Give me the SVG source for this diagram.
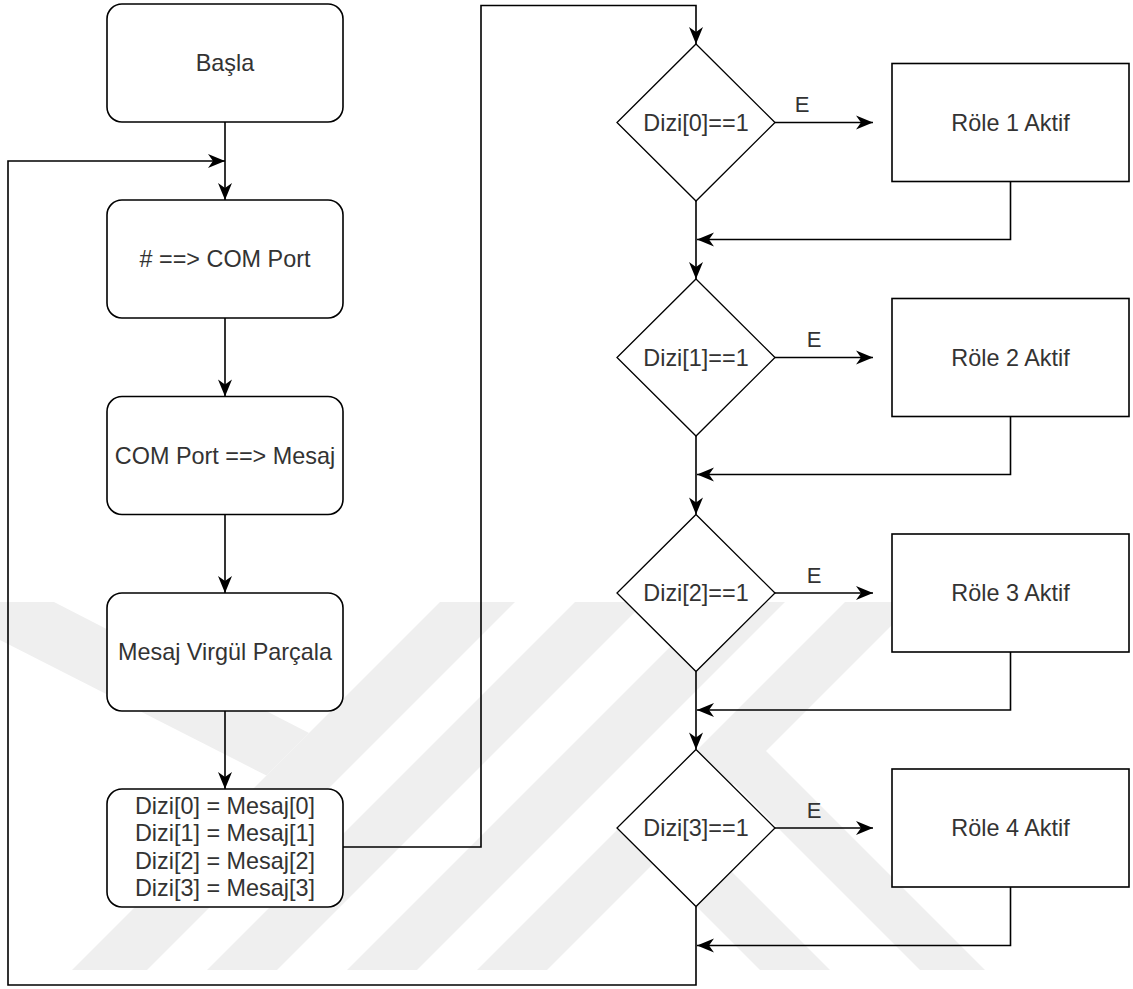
<svg xmlns="http://www.w3.org/2000/svg" width="1133" height="989" viewBox="0 0 1133 989">
<style>
.n{fill:#fff;stroke:#000;stroke-width:1.6}
.d{fill:#fff;stroke:#000;stroke-width:1.3}
.c{fill:none;stroke:#000;stroke-width:1.6}
.t{font-family:"Liberation Sans",Arial,Helvetica,sans-serif;font-size:23.4px;fill:#333;text-anchor:middle}
.e{font-family:"Liberation Sans",Arial,Helvetica,sans-serif;font-size:22px;fill:#333;text-anchor:middle}
.wm{fill:#efefef}
</style>
<defs>
<marker id="arr" markerUnits="userSpaceOnUse" markerWidth="20" markerHeight="16" viewBox="-18 -8 20 16" refX="0" refY="0" orient="auto">
<path d="M0,0 L-17,-7 L-12,0 L-17,7 Z" fill="#000"/>
</marker>
<clipPath id="wmclip"><rect x="0" y="602" width="1133" height="368"/></clipPath>
</defs>
<rect width="1133" height="989" fill="#fff"/>
<g id="watermark" clip-path="url(#wmclip)">
<polygon class="wm" points="0,602 54,602 309,733 266.5,775.5 0,640"/>
<polygon class="wm" points="440,602 515,602 147,970 72,970"/>
<polygon class="wm" points="575,602 645,602 277,970 207,970"/>
<polygon class="wm" points="715,602 785,602 417,970 347,970"/>
<polygon class="wm" points="845,602 915,602 547,970 477,970"/>
<polygon class="wm" points="700,750 765,750 985,970 920,970"/>
<polygon class="wm" points="640,850 710,850 830,970 760,970"/>
</g>
<g id="connectors">
<path class="c" d="M225,122 V200" marker-end="url(#arr)"/>
<path class="c" d="M225,318 V396.5" marker-end="url(#arr)"/>
<path class="c" d="M225,514.5 V593" marker-end="url(#arr)"/>
<path class="c" d="M225,711 V789" marker-end="url(#arr)"/>
<path class="c" d="M343,847 H481 V5.5 H696 V44" marker-end="url(#arr)"/>
<path class="c" d="M696,201 V279" marker-end="url(#arr)"/>
<path class="c" d="M696,436 V514.5" marker-end="url(#arr)"/>
<path class="c" d="M696,671.5 V749.5" marker-end="url(#arr)"/>
<path class="c" d="M696,906.5 V985 H8 V161 H225" marker-end="url(#arr)"/>
<path class="c" d="M775,122.5 H873" marker-end="url(#arr)"/>
<path class="c" d="M775,357.5 H873" marker-end="url(#arr)"/>
<path class="c" d="M775,593 H873" marker-end="url(#arr)"/>
<path class="c" d="M775,828 H873" marker-end="url(#arr)"/>
<path class="c" d="M1010.5,181.5 V239.5 H697" marker-end="url(#arr)"/>
<path class="c" d="M1010.5,416.5 V474.5 H697" marker-end="url(#arr)"/>
<path class="c" d="M1010.5,652 V710 H697" marker-end="url(#arr)"/>
<path class="c" d="M1010.5,887 V945.5 H697" marker-end="url(#arr)"/>
<text class="e" x="802" y="112">E</text>
<text class="e" x="814" y="347">E</text>
<text class="e" x="814" y="582.5">E</text>
<text class="e" x="814" y="817.5">E</text>
</g>
<g id="basla"><rect class="n" x="107" y="4" width="236" height="118" rx="15"/><text class="t" x="225" y="71.4">Başla</text></g>
<g id="com-port"><rect class="n" x="107" y="200" width="236" height="118" rx="15"/><text class="t" x="225" y="267.4"># ==&gt; COM Port</text></g>
<g id="mesaj"><rect class="n" x="107" y="396.5" width="236" height="118" rx="15"/><text class="t" x="225" y="463.9">COM Port ==&gt; Mesaj</text></g>
<g id="parcala"><rect class="n" x="107" y="593" width="236" height="118" rx="15"/><text class="t" x="225" y="660.4">Mesaj Virgül Parçala</text></g>
<g id="dizi"><rect class="n" x="107" y="789" width="236" height="118" rx="15"/>
<text class="t" x="225" y="813.5">Dizi[0] = Mesaj[0]</text>
<text class="t" x="225" y="841">Dizi[1] = Mesaj[1]</text>
<text class="t" x="225" y="868.5">Dizi[2] = Mesaj[2]</text>
<text class="t" x="225" y="896">Dizi[3] = Mesaj[3]</text></g>
<g id="d0"><polygon class="d" points="696,44 775,122.5 696,201 617,122.5"/><text class="t" x="696" y="130.9">Dizi[0]==1</text></g>
<g id="d1"><polygon class="d" points="696,279 775,357.5 696,436 617,357.5"/><text class="t" x="696" y="365.9">Dizi[1]==1</text></g>
<g id="d2"><polygon class="d" points="696,514.5 775,593 696,671.5 617,593"/><text class="t" x="696" y="601.4">Dizi[2]==1</text></g>
<g id="d3"><polygon class="d" points="696,749.5 775,828 696,906.5 617,828"/><text class="t" x="696" y="836.4">Dizi[3]==1</text></g>
<g id="r1"><rect class="n" x="892" y="63.5" width="237" height="118"/><text class="t" x="1010.5" y="130.9">Röle 1 Aktif</text></g>
<g id="r2"><rect class="n" x="892" y="298.5" width="237" height="118"/><text class="t" x="1010.5" y="365.9">Röle 2 Aktif</text></g>
<g id="r3"><rect class="n" x="892" y="534" width="237" height="118"/><text class="t" x="1010.5" y="601.4">Röle 3 Aktif</text></g>
<g id="r4"><rect class="n" x="892" y="769" width="237" height="118"/><text class="t" x="1010.5" y="836.4">Röle 4 Aktif</text></g>
</svg>
